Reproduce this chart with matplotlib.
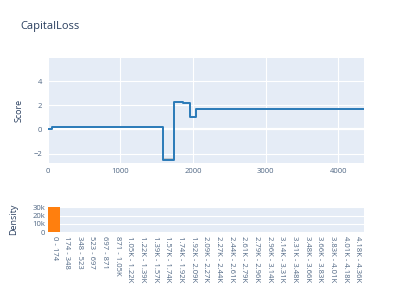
import matplotlib
matplotlib.use("Agg")
import matplotlib.pyplot as plt
import numpy as np

plt.rcParams['font.family'] = ['Open Sans', 'DejaVu Sans']

# shape function (step)
bin_edges = [0, 63, 1584, 1740, 1860, 1960, 2036, 4356]
scores = [0.0, 0.19, -2.5, 2.26, 2.2, 0.99, 1.65]
score_err = [0.03, 0.02, 0.14, 0.03, 0.03, 0.06, 0.02]

# density histogram
bin_labels = ['0 - 174', '174 - 348', '348 - 523', '523 - 697', '697 - 871',
              '871 - 1.05K', '1.05K - 1.22K', '1.22K - 1.39K', '1.39K - 1.57K',
              '1.57K - 1.74K', '1.74K - 1.92K', '1.92K - 2.09K', '2.09K - 2.27K',
              '2.27K - 2.44K', '2.44K - 2.61K', '2.61K - 2.79K', '2.79K - 2.96K',
              '2.96K - 3.14K', '3.14K - 3.31K', '3.31K - 3.48K', '3.48K - 3.66K',
              '3.66K - 3.83K', '3.83K - 4.01K', '4.01K - 4.18K', '4.18K - 4.36K']
counts = [30200] + [0] * 24

bg = '#e5ecf6'
txt = '#2a3f5f'
tick_c = '#506784'

fig = plt.figure(figsize=(4.11, 2.94), dpi=100)

# top: score
ax = fig.add_axes([0.116, 0.4466, 0.7696, 0.3561])
ax.set_facecolor(bg)
for s in ax.spines.values():
    s.set_visible(False)
ax.grid(True, color='white', lw=0.8)
ax.set_axisbelow(True)
ax.axhline(0, color='white', lw=1.6, zorder=0.5)

y_step = scores + [scores[-1]]
lo = [s - e for s, e in zip(scores, score_err)]
hi = [s + e for s, e in zip(scores, score_err)]
ax.fill_between(bin_edges, lo + [lo[-1]], hi + [hi[-1]], step='post',
                color='#b0b0b0', alpha=0.6, lw=0, zorder=2)
ax.step(bin_edges, y_step, where='post', color='#2a7ab8', lw=1.4, zorder=3)

ax.set_xlim(0, 4356)
ax.set_ylim(-2.75, 5.9)
ax.set_xticks([0, 1000, 2000, 3000, 4000])
ax.set_yticks([-2, 0, 2, 4])
ax.set_yticklabels(['\u22122', '0', '2', '4'])
ax.tick_params(length=0, labelsize=5.5, colors=tick_c, pad=4)
ax.set_ylabel('Score', fontsize=6.5, color=txt)
ax.yaxis.set_label_coords(-0.076, 0.5)

fig.text(0.049, 0.91, 'CapitalLoss', fontsize=8, color=txt, va='center', ha='left')

# bottom: density
ax2 = fig.add_axes([0.116, 0.2099, 0.7696, 0.087])
ax2.set_facecolor(bg)
for s in ax2.spines.values():
    s.set_visible(False)
ax2.yaxis.grid(True, color='white', lw=0.8)
ax2.set_axisbelow(True)
pos = np.arange(len(bin_labels))
ax2.bar(pos, counts, width=0.96, color='#ff7f0e', zorder=2)
ax2.set_xlim(-0.5, len(bin_labels) - 0.5)
ax2.set_ylim(0, 30700)
ax2.set_yticks([0, 10000, 20000, 30000])
ax2.set_yticklabels(['0', '10k', '20k', '30k'])
ax2.set_xticks(pos)
ax2.set_xticklabels(bin_labels, rotation=-90, va='top', ha='center')
ax2.tick_params(length=0, labelsize=5.5, colors=tick_c, pad=3)
ax2.tick_params(axis='y', pad=2)
ax2.set_ylabel('Density', fontsize=6.5, color=txt)
ax2.yaxis.set_label_coords(-0.094, 0.5)

fig.savefig('out.png', dpi=100)
